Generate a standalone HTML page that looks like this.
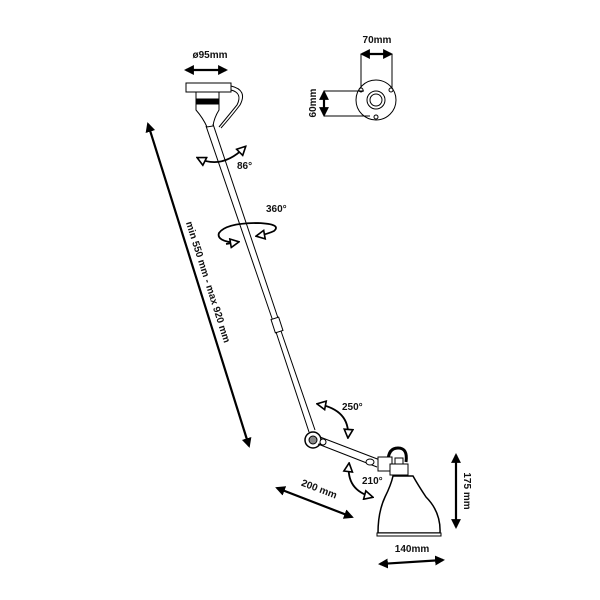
<!DOCTYPE html>
<html><head><style>html,body{margin:0;padding:0;background:#fff}svg{display:block}text{font-family:"Liberation Sans",sans-serif;font-weight:bold;fill:#111}</style></head>
<body>
<svg width="600" height="600" viewBox="0 0 600 600" xmlns="http://www.w3.org/2000/svg">
<defs>
<marker id="f" viewBox="0 0 10 10" refX="8" refY="5" markerWidth="4.5" markerHeight="4.5" orient="auto-start-reverse"><path d="M0,0L10,5L0,10z" fill="#000"/></marker>
<marker id="o" viewBox="0 0 10 10" refX="8" refY="5" markerWidth="6" markerHeight="6" orient="auto-start-reverse"><path d="M1,1L9,5L1,9z" fill="#fff" stroke="#000" stroke-width="1.5"/></marker>
</defs>
<g fill="none" stroke="#000" stroke-width="1">
<rect x="186" y="83" width="45" height="9" fill="#fff"/>
<path d="M196,92 L219,92 L219,110 Q214,118 213,126 L207,127 Q203,118 196,110 Z" fill="#fff"/>
<rect x="196" y="99" width="23" height="5" fill="#000"/>
<path d="M231,86 Q248,90 240,105 Q230,118 221,128"/>
<path d="M231,90 Q243,93 237,105 Q228,116 219,127"/>
<path d="M206,126 L276,330 M213,124 L282,330"/>
<rect x="273" y="318" width="8" height="14" transform="rotate(-18 277 325)" fill="#fff"/>
<path d="M276,332 L309,432 M281,331 L315,430"/>
<circle cx="313" cy="440" r="8" fill="#fff" stroke-width="1.5"/>
<circle cx="313" cy="440" r="4" fill="#888"/>
<circle cx="323" cy="442" r="3" fill="#fff"/>
<path d="M320,437 L380,460 M318,444 L377,467"/>
<ellipse cx="370" cy="462" rx="4" ry="3" fill="#fff"/>
<path d="M388,462 Q388,448 398,448 Q408,448 406,462" stroke-width="3"/>
<rect x="378" y="457" width="14" height="14" fill="#fff"/>
<rect x="395" y="458" width="8" height="6" fill="#fff"/>
<rect x="390" y="464" width="18" height="11" fill="#fff"/>
<path d="M393,476 L413,476 Q418,485 426,497 Q441,512 440,533 L378,533 Q378,512 385,497 Q391,485 393,476 Z" fill="#fff" stroke-width="1.5"/>
<rect x="377" y="533" width="64" height="3" fill="#fff"/>
<circle cx="376" cy="100" r="20" fill="#fff"/>
<circle cx="376" cy="100" r="9"/><circle cx="376" cy="100" r="6"/>
<circle cx="361" cy="90" r="2"/><circle cx="391" cy="90" r="2"/><circle cx="376" cy="117" r="2"/>
<path d="M361,54 L361,88 M392,54 L392,88 M324,91 L364,91 M324,116 L370,116"/>
</g>
<g stroke="#000" stroke-width="2.2" fill="none">
<line x1="186" y1="70" x2="226" y2="70" marker-start="url(#f)" marker-end="url(#f)"/>
<line x1="362" y1="54" x2="391" y2="54" marker-start="url(#f)" marker-end="url(#f)"/>
<line x1="324" y1="92" x2="324" y2="115" marker-start="url(#f)" marker-end="url(#f)"/>
<line x1="148" y1="124" x2="249" y2="446" marker-start="url(#f)" marker-end="url(#f)"/>
<line x1="277" y1="488" x2="352" y2="517" marker-start="url(#f)" marker-end="url(#f)"/>
<line x1="456" y1="455" x2="456" y2="527" marker-start="url(#f)" marker-end="url(#f)"/>
<line x1="380" y1="564" x2="443" y2="560" marker-start="url(#f)" marker-end="url(#f)"/>
<path d="M198,158 Q222,170 245,147" marker-start="url(#o)" marker-end="url(#o)" stroke-width="1.8"/>
<path d="M236,243 Q216,241 219,233 Q226,223 258,223 Q282,224 274,231 Q268,234 257,236" marker-end="url(#o)" stroke-width="1.8"/>
<path d="M226,244 L238,242" marker-end="url(#o)" stroke-width="1.8"/>
<path d="M318,404 Q350,410 348,437" marker-start="url(#o)" marker-end="url(#o)" stroke-width="1.8"/>
<path d="M349,464 Q346,490 372,497" marker-start="url(#o)" marker-end="url(#o)" stroke-width="1.8"/>
</g>
<g font-size="10">
<text x="210" y="58" text-anchor="middle">ø95mm</text>
<text x="377" y="43" text-anchor="middle">70mm</text>
<text transform="translate(316,103) rotate(-90)" text-anchor="middle">60mm</text>
<text x="237" y="169">86°</text>
<text x="266" y="212">360°</text>
<text transform="translate(205,283) rotate(72.4)" text-anchor="middle">min 550 mm - max 920 mm</text>
<text x="342" y="410">250°</text>
<text x="362" y="484">210°</text>
<text transform="translate(318,492) rotate(21)" text-anchor="middle">200 mm</text>
<text transform="translate(464,491) rotate(90)" text-anchor="middle">175 mm</text>
<text x="412" y="552" text-anchor="middle">140mm</text>
</g>
</svg>
</body></html>
